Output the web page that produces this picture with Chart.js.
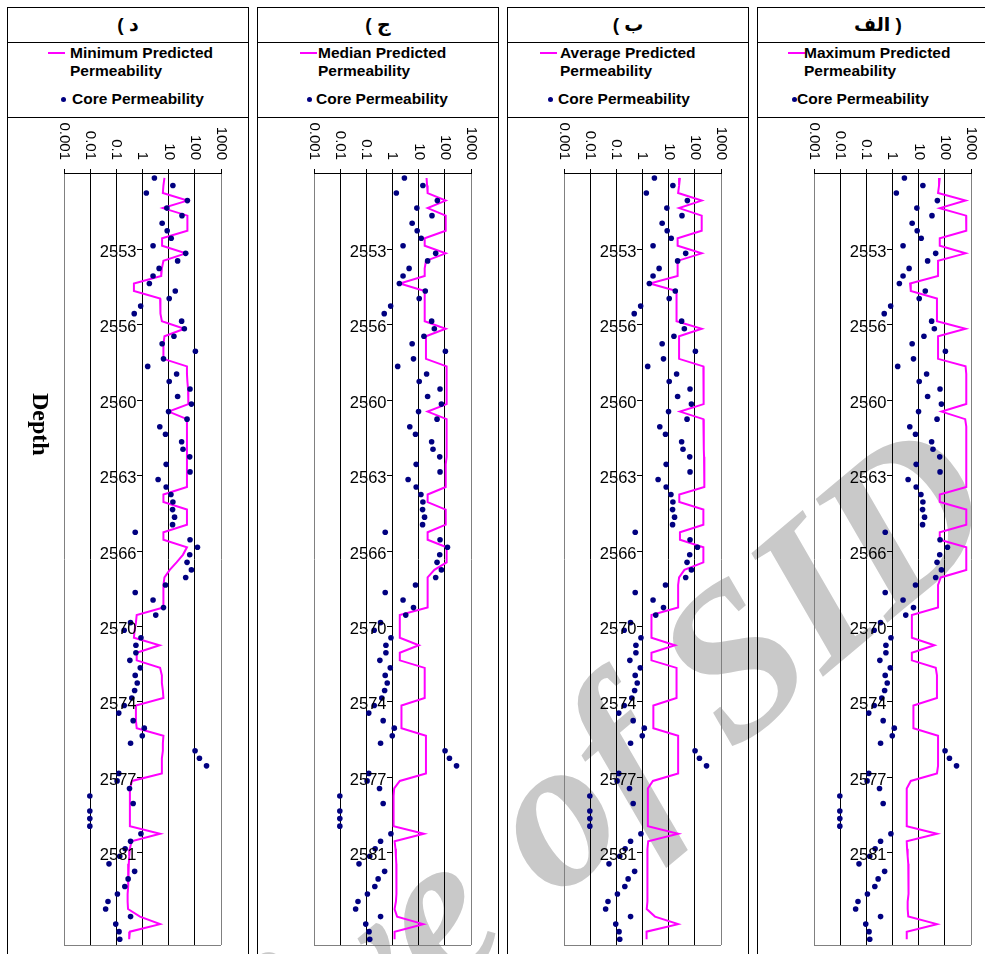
<!DOCTYPE html>
<html><head><meta charset="utf-8">
<script src="https://cdn.jsdelivr.net/npm/chart.js@4/dist/chart.umd.min.js"></script>
<style>
html,body{margin:0;padding:0;background:#fff;}
body{width:985px;height:954px;position:relative;overflow:hidden;font-family:'Liberation Sans',Arial,sans-serif;}
#wm{position:absolute;left:0;top:0;z-index:0;white-space:nowrap;font:italic bold 215px 'Liberation Serif','Times New Roman',serif;line-height:1;color:#c9c9c9;transform-origin:0 0;}
.panel{position:absolute;top:7px;width:240px;height:1000px;border:1px solid #000;z-index:1;}
.title{position:absolute;left:0;top:0;width:240px;height:34px;border-bottom:1px solid #000;text-align:center;font:bold 19px 'Liberation Sans','DejaVu Sans',sans-serif;line-height:34px;background:#fff;}
.legend{position:absolute;left:0;top:35px;width:240px;height:74px;border-bottom:1px solid #000;background:#fff;font:bold 15.5px 'Liberation Sans',Arial,sans-serif;line-height:18px;color:#000;}
.lline{position:absolute;top:9px;width:17px;height:2px;background:#ff00ff;}
.ldot{position:absolute;top:54px;width:5px;height:5px;border-radius:50%;background:#000080;}
.ltext{position:absolute;top:1px;width:160px;}
.ltext2{position:absolute;top:47px;white-space:nowrap;}
canvas{position:absolute;left:0;top:110px;}
#depth{position:absolute;left:27px;top:393px;writing-mode:vertical-rl;font:bold 24px 'Liberation Serif','Times New Roman',serif;line-height:28px;color:#000;z-index:2;}
</style>
</head><body>
<div id="wm">Archive of SID</div>
<div id="depth">Depth</div>
<script>
// ---- data ----
const panelTitles = ['( د', '( ج', '( ب', 'الف )'];
const seriesNames = ['Minimum Predicted Permeability', 'Median Predicted Permeability', 'Average Predicted Permeability', 'Maximum Predicted Permeability'];
const coreName = 'Core Permeability';
const xTickValues = [0.001, 0.01, 0.1, 1, 10, 100, 1000];
const xTickLabels = ['0.001', '0.01', '0.1', '1', '10', '100', '1000'];
const depthTickPos = [9.5, 19.5, 29.5, 39.5, 49.5, 59.5, 69.5, 79.5, 89.5];   // sample number of each depth label
const depthLabels = ['2553', '2556', '2560', '2563', '2566', '2570', '2574', '2577', '2581'];

// core permeability, one value per sample (top to bottom)
const coreK = [
 2.85, 14.5, 1.40, 51.9, 8.53, 32.3, 5.64, 8.77, 12.5, 2.53,
 44.7, 22.0, 4.31, 2.53, 1.83, 17.9, 10.5, 0.85, 0.483, 31.3,
 39.7, 15.9, 5.64, 105, 6.34, 1.58, 20.1, 10.5, 65.6, 22.0,
 73.9, 9.89, 50.4, 4.58, 7.57, 31.3, 35.3, 63.8, 8.03, 65.6,
 3.95, 8.03, 12.2, 14.5, 14.1, 16.8, 14.1, 0.527, 65.6, 126,
 63.8, 50.4, 73.9, 44.7, 7.57, 0.527, 2.53, 6.34, 3.21, 0.348,
 0.199, 0.873, 0.560, 0.560, 0.329, 0.822, 0.527, 0.63, 0.50, 0.39,
 0.20, 0.124, 0.44, 1.17, 0.98, 0.35, 102, 150, 280, 0.124,
 0.107, 0.319, 0.0097, 0.44, 0.0097, 0.0097, 0.0097, 0.87, 0.35, 0.217,
 0.135, 0.0525, 0.50, 0.283, 0.211, 0.110, 0.048, 0.039, 0.35, 0.095,
 0.127, 0.135];

const minPred = [
 6.9, 6.3, 6.0, 52, 6.0, 52, 52, 52, 5.6, 5.6,
 45, 6.3, 5.5, 5.2, 0.47, 0.47, 4.7, 4.7, 5.0, 5.5,
 40, 6.9, 6.3, 6.3, 6.3, 50, 50, 52, 55, 55,
 58, 10, 50, 50, 50, 50, 50, 50, 50, 50,
 50, 50, 6.3, 6.3, 50, 50, 50, 6.3, 6.3, 50,
 35, 20, 11, 6.9, 6.3, 6.3, 6.3, 6.3, 0.6, 0.56,
 0.5, 0.47, 4.5, 0.6, 0.6, 4.7, 5.5, 5.5, 6.0, 6.3,
 0.56, 0.56, 0.56, 0.6, 6.3, 6.0, 6.0, 5.5, 5.5, 5.5,
 0.4, 0.33, 0.33, 0.33, 0.33, 0.33, 0.33, 4.7, 0.38, 0.33,
 0.31, 0.30, 0.29, 0.28, 0.28, 0.27, 0.27, 0.28, 0.8, 4.7,
 0.33, 0.31];

const medianPred = [
 20, 21, 22, 108, 22, 108, 108, 108, 17, 17,
 108, 19, 17, 17, 1.9, 17, 17, 17, 17, 17,
 108, 19, 19, 19, 19, 117, 117, 117, 117, 117,
 117, 22, 117, 117, 117, 117, 117, 117, 108, 108,
 108, 108, 22, 22, 108, 108, 108, 22, 22, 117,
 117, 117, 40, 22, 22, 22, 22, 22, 1.9, 1.9,
 1.9, 1.9, 10.2, 1.9, 1.9, 17, 17, 17, 17, 17,
 2.2, 2.2, 2.2, 2.2, 19, 19, 19, 19, 19, 19,
 1.9, 1.16, 1.1, 1.1, 1.1, 1.1, 1.1, 15.9, 1.2, 1.3,
 1.35, 1.4, 1.4, 1.43, 1.43, 1.4, 1.35, 1.2, 1.5, 15,
 1.2, 1.2];

const averagePred = [
 27, 25, 23, 183, 25, 183, 183, 183, 22, 22,
 183, 22, 22, 22, 1.9, 20, 20, 20, 20, 20,
 183, 25, 25, 25, 25, 212, 212, 215, 218, 220,
 220, 27, 212, 220, 220, 220, 220, 225, 231, 231,
 231, 231, 25.5, 25.5, 212, 212, 212, 27, 27, 212,
 212, 212, 40, 25, 23, 23, 23, 23, 2.2, 2.2,
 2.2, 2.2, 17.4, 2.2, 2.2, 20, 20, 20, 20, 20,
 2.6, 2.6, 2.6, 2.6, 23, 23, 23, 23, 23, 23,
 2.5, 1.6, 1.6, 1.6, 1.6, 1.6, 1.6, 23, 1.65, 1.55,
 1.55, 1.55, 1.55, 1.55, 1.55, 1.55, 1.5, 1.45, 3, 23,
 1.43, 1.43];

const maxPred = [
 64, 60, 55, 620, 64, 650, 660, 660, 64, 64,
 620, 55, 55, 55, 4.7, 5.0, 50, 50, 50, 50,
 620, 55, 55, 55, 55, 620, 660, 660, 660, 660,
 660, 75, 600, 660, 660, 660, 660, 660, 660, 660,
 660, 660, 64, 64, 660, 660, 660, 64, 64, 660,
 660, 660, 660, 70, 55, 55, 55, 55, 5.5, 5.5,
 5.5, 5.5, 40, 5.5, 5.5, 45, 50, 50, 50, 50,
 6.3, 6.3, 6.3, 6.3, 55, 55, 55, 55, 55, 50,
 5.0, 3.5, 3.5, 3.5, 3.5, 3.5, 3.5, 50, 3.5, 3.6,
 3.8, 4.0, 4.0, 4.2, 4.2, 4.0, 3.8, 3.8, 4.0, 50,
 3.5, 3.5];

const predicted = [minPred, medianPred, averagePred, maxPred];

// ---- layout (pixels inside each panel) ----
const legendLayout = [
  {line: 40, text: 62, dot: 53, text2: 64},
  {line: 42, text: 60, dot: 49, text2: 58},
  {line: 32, text: 52, dot: 40, text2: 50},
  {line: 30, text: 46, dot: 34, text2: 39}
];

// ---- drawing ----
Chart.defaults.font.family = "'Liberation Sans', Arial, sans-serif";
Chart.defaults.color = '#000';

const wm = document.getElementById('wm');
wm.style.transform = 'translate(-133px,1244px) rotate(-40deg)';

// tick labels: x labels rotated to read downward, depth labels left of the axis line at x = 1
const tickLabelPlugin = {
  id: 'tickLabels',
  afterDraw(chart) {
    const sx = chart.scales.x, sy = chart.scales.y, ctx = chart.ctx;
    ctx.save();
    ctx.fillStyle = '#000';
    ctx.font = "15px 'Liberation Sans', Arial, sans-serif";
    ctx.textAlign = 'right';
    ctx.textBaseline = 'middle';
    xTickValues.forEach((v, k) => {
      const px = sx.getPixelForValue(v);
      ctx.save();
      ctx.translate(px, chart.chartArea.top - 13);
      ctx.rotate(Math.PI / 2);
      ctx.fillText(xTickLabels[k], 0, 0);
      ctx.restore();
    });
    ctx.font = "16.5px 'Liberation Sans', Arial, sans-serif";
    const axisX = sx.getPixelForValue(1);
    depthTickPos.forEach((v, k) => {
      ctx.fillText(depthLabels[k], axisX - 6, sy.getPixelForValue(v) + 3);
    });
    ctx.restore();
  }
};
const framePlugin = {
  id: 'frame',
  beforeDatasetsDraw(chart) {
    const a = chart.chartArea, ctx = chart.ctx;
    ctx.save();
    ctx.strokeStyle = '#808080';
    ctx.lineWidth = 1;
    ctx.beginPath();
    ctx.moveTo(a.left, Math.round(a.bottom) + 0.5);
    ctx.lineTo(a.right, Math.round(a.bottom) + 0.5);
    ctx.stroke();
    ctx.restore();
  }
};

for (let p = 0; p < 4; p++) {
  const L = legendLayout[p];
  const panel = document.createElement('div');
  panel.className = 'panel';
  panel.style.left = (7 + 250 * p) + 'px';
  const title = document.createElement('div');
  title.className = 'title';
  title.dir = 'ltr';
  title.textContent = panelTitles[p];
  panel.appendChild(title);
  const legend = document.createElement('div');
  legend.className = 'legend';
  const ll = document.createElement('span'); ll.className = 'lline'; ll.style.left = L.line + 'px';
  const lt = document.createElement('span'); lt.className = 'ltext'; lt.style.left = L.text + 'px'; lt.textContent = seriesNames[p];
  const ld = document.createElement('span'); ld.className = 'ldot'; ld.style.left = L.dot + 'px';
  const lt2 = document.createElement('span'); lt2.className = 'ltext2'; lt2.style.left = L.text2 + 'px'; lt2.textContent = coreName;
  legend.append(ll, lt, ld, lt2);
  panel.appendChild(legend);
  const canvas = document.createElement('canvas');
  canvas.width = 240; canvas.height = 836;
  canvas.style.width = '240px'; canvas.style.height = '836px';
  panel.appendChild(canvas);
  document.body.appendChild(panel);

  new Chart(canvas, {
    type: 'scatter',
    data: {
      datasets: [
        {
          label: coreName,
          data: coreK.map((v, i) => ({x: v, y: i})),
          showLine: false,
          pointRadius: 2.8,
          pointBackgroundColor: '#000080',
          pointBorderWidth: 0,
          pointHoverRadius: 2.8
        },
        {
          label: seriesNames[p],
          data: predicted[p].map((v, i) => ({x: v, y: i})),
          showLine: true,
          borderColor: '#ff00ff',
          borderWidth: 2,
          pointRadius: 0,
          pointHoverRadius: 0,
          tension: 0,
          fill: false
        }
      ]
    },
    options: {
      responsive: false,
      animation: false,
      events: [],
      layout: {padding: {left: 56, right: 27, top: 0, bottom: 9}},
      plugins: {legend: {display: false}, tooltip: {enabled: false}},
      scales: {
        x: {
          type: 'logarithmic',
          position: 'top',
          min: 0.001, max: 1000,
          afterBuildTicks: s => { s.ticks = xTickValues.map(v => ({value: v})); },
          afterFit: s => { s.height = 55; },
          ticks: {display: false},
          grid: {
            color: c => (c.index === 0 || c.index === xTickValues.length - 1) ? '#808080' : '#000',
            lineWidth: 1,
            drawTicks: true,
            tickLength: 4,
            tickColor: '#000'
          },
          border: {display: true, color: '#000', width: 1}
        },
        y: {
          type: 'linear',
          reverse: true,
          min: -0.66, max: 101.77,
          position: {x: 1},
          afterBuildTicks: s => { s.ticks = depthTickPos.map(v => ({value: v})); },
          afterFit: s => { s.paddingTop = 0; s.paddingBottom = 0; },
          ticks: {display: false},
          grid: {display: true, drawOnChartArea: false, drawTicks: true, tickLength: 5, color: '#000'},
          border: {display: true, color: '#000', width: 1}
        }
      }
    },
    plugins: [tickLabelPlugin, framePlugin]
  });
}
</script>
</body></html>
